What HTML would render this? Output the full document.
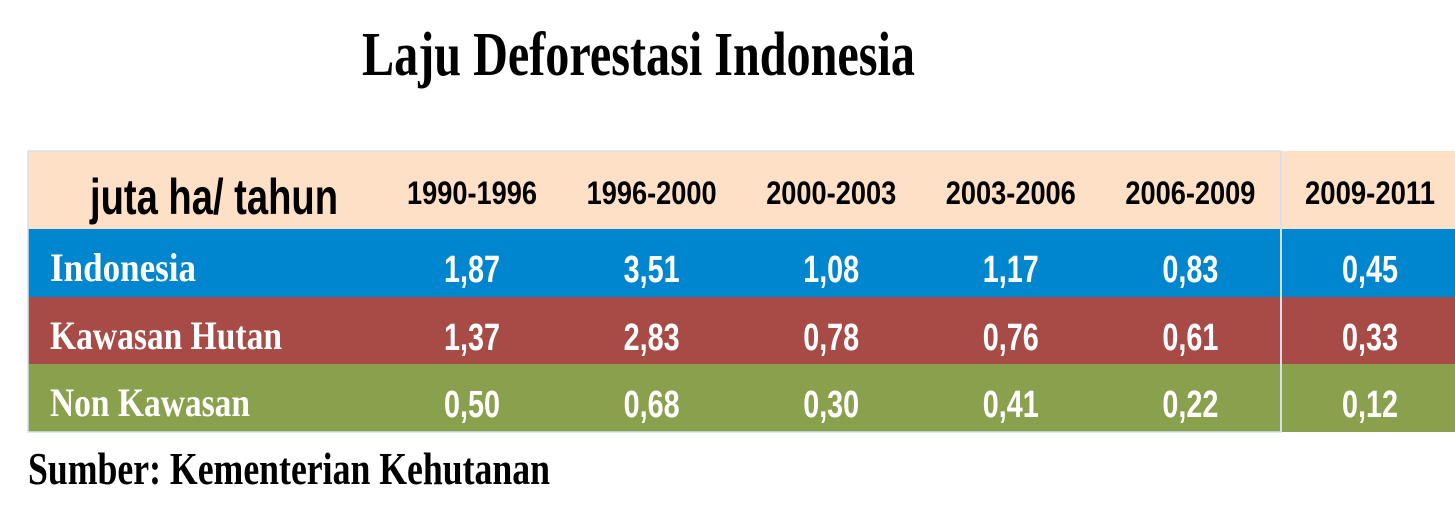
<!DOCTYPE html>
<html><head><meta charset="utf-8"><style>
html,body{margin:0;padding:0;background:#fff;width:1455px;height:526px;overflow:hidden}
svg{display:block}
.serif{font-family:"Liberation Serif",serif;font-weight:bold}
.sans{font-family:"Liberation Sans",sans-serif;font-weight:bold}
</style></head><body>
<svg id="chart" width="1455" height="526" viewBox="0 0 1455 526" xmlns="http://www.w3.org/2000/svg">
<text class="serif" x="362" y="75" font-size="62" textLength="553" lengthAdjust="spacingAndGlyphs" fill="#000">Laju Deforestasi Indonesia</text>
<g id="tbl"></g>
<text class="serif" x="28" y="484" font-size="46" textLength="522" lengthAdjust="spacingAndGlyphs" fill="#000">Sumber: Kementerian Kehutanan</text>
</svg>
<script>
const periods = ["1990-1996","1996-2000","2000-2003","2003-2006","2006-2009","2009-2011"];
const rowLabels = ["Indonesia","Kawasan Hutan","Non Kawasan"];
const indonesia = ["1,87","3,51","1,08","1,17","0,83","0,45"];
const kawasanHutan = ["1,37","2,83","0,78","0,76","0,61","0,33"];
const nonKawasan = ["0,50","0,68","0,30","0,41","0,22","0,12"];
const rowsData = [indonesia, kawasanHutan, nonKawasan];

const NS="http://www.w3.org/2000/svg";
const g=document.getElementById('tbl');
function mk(tag,attrs,parent){const e=document.createElementNS(NS,tag);for(const k in attrs)e.setAttribute(k,attrs[k]);(parent||g).appendChild(e);return e;}
const colX=i=>472+i*179.6;
const rowColors=["#0085cf","#a84a45","#89a04c"];
const rowTop=[229,297,364], rowBot=[297,364,432];
// header
let h=mk('rect',{x:28,y:151,width:1427,height:78,fill:"#fde0c6"});


let u=mk('text',{x:90,y:214,'font-size':50,textLength:248,lengthAdjust:"spacingAndGlyphs",class:"sans",fill:"#000"});
u.textContent="juta ha/ tahun";


periods.forEach((p,i)=>{
  const t=mk('text',{x:colX(i),y:204,'font-size':32,'text-anchor':'middle',textLength:130,lengthAdjust:"spacingAndGlyphs",class:"sans",fill:"#000"});
  t.textContent=p;
  
  
});
rowLabels.forEach((lab,r)=>{
  const rc=mk('rect',{x:28,y:rowTop[r],width:1427,height:rowBot[r]-rowTop[r],fill:rowColors[r]});
  
  
  const lw=[146,232,200][r];
  const t=mk('text',{x:50,y:rowTop[r]+52,'font-size':40,textLength:lw,lengthAdjust:"spacingAndGlyphs",class:"serif",fill:"#fff"});
  t.textContent=lab;
  
  
  rowsData[r].forEach((v,i)=>{
    const c=mk('text',{x:colX(i),y:rowTop[r]+53,'font-size':38,'text-anchor':'middle',textLength:56,lengthAdjust:"spacingAndGlyphs",class:"sans",fill:"#fff"});
    c.textContent=v;
    
    
  });
});
// separator + borders
mk('line',{x1:1281,y1:151,x2:1281,y2:432,stroke:"#d5e0ea","stroke-width":2});
mk('rect',{x:28,y:151,width:1253,height:281,fill:"none",stroke:"#d5e0ea","stroke-width":1.5});
mk('rect',{x:1282,y:432,width:173,height:2,fill:"#fff"});
</script>
</body></html>
